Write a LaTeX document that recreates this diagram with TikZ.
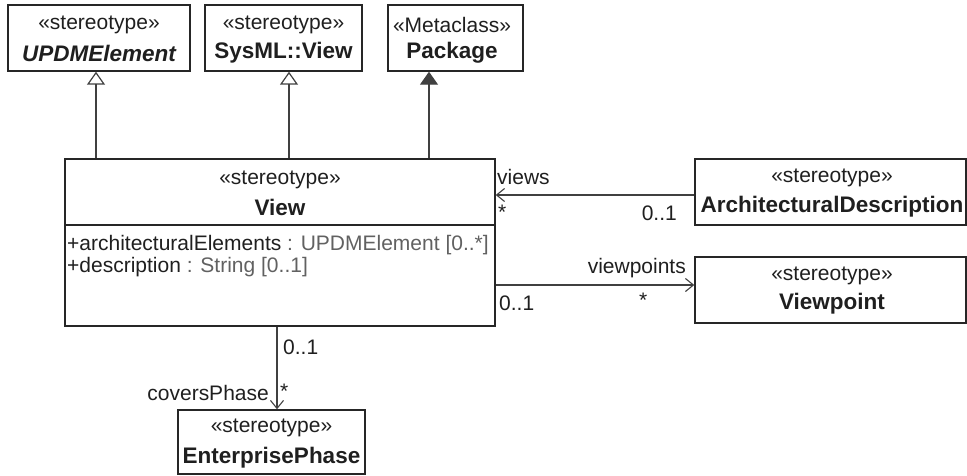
\documentclass[tikz,border=0pt]{standalone}
\usepackage{fontspec}
\setmainfont{Liberation Sans}
\usetikzlibrary{arrows.meta}
\definecolor{ln}{gray}{0.25}
\definecolor{txt}{gray}{0.12}
\definecolor{typ}{gray}{0.38}
\tikzset{
  umlbox/.style={draw=black!85, line width=1.4pt, inner sep=0pt},
  st/.style={inner sep=0pt, text=txt, font=\fontsize{21}{25}\selectfont},
  nm/.style={inner sep=0pt, text=txt, font=\fontsize{22.5}{27}\selectfont\bfseries},
  lbl/.style={inner sep=0pt, text=txt, font=\fontsize{21}{25}\selectfont},
  gen/.style={draw=ln, line width=1.2pt, -{Triangle[open, length=13pt, width=18pt]}},
  genf/.style={draw=ln, line width=1.2pt, -{Triangle[fill=ln, length=13pt, width=18pt]}},
  assoc/.style={draw=ln, line width=1.2pt, -{Straight Barb[length=8pt, width=13pt, line width=1.1pt]}}
}
\begin{document}
\begin{tikzpicture}[x=1pt, y=-1pt]
\useasboundingbox (0,0) rectangle (967,476);
% boxes
\node[umlbox, minimum width=182pt, minimum height=66pt] (upd) at (99,38) {};
\node[umlbox, minimum width=157pt, minimum height=66pt] (sysml) at (283.5,38) {};
\node[umlbox, minimum width=135pt, minimum height=66pt] (pkg) at (455.5,38) {};
\node[umlbox, minimum width=430pt, minimum height=167pt] (view) at (280,242.5) {};
\node[umlbox, minimum width=271pt, minimum height=66pt] (ad) at (830.5,192) {};
\node[umlbox, minimum width=271pt, minimum height=66pt] (vp) at (830.5,290) {};
\node[umlbox, minimum width=187pt, minimum height=64pt] (ep) at (271.5,442) {};
\coordinate (divl) at (65,225);
\draw[draw=black!85, line width=1.4pt] (divl) -- (divl -| view.east);
% texts
\node[st] (upds) at (99,25) {«stereotype»};
\node[nm, font=\fontsize{22.5}{27}\selectfont\bfseries\itshape] (updn) at (99,53) {UPDMElement};
\node[st] (sysmls) at (283.5,25) {«stereotype»};
\node[nm] (sysmln) at (283.5,53) {SysML::View};
\node[st] (pkgs) at (452,25) {«Metaclass»};
\node[nm] (pkgn) at (452,53) {Package};
\node[st] (views) at (280,180) {«stereotype»};
\node[nm] (viewn) at (280,207) {View};
\node[lbl, anchor=west] (att1) at (67,245) {+architecturalElements \textcolor{typ}{: UPDMElement [0..*]}};
\node[lbl, anchor=west] (att2) at (67,267) {+description \textcolor{typ}{: String [0..1]}};
\node[st] (ads) at (832,178) {«stereotype»};
\node[nm] (adn) at (832,207) {ArchitecturalDescription};
\node[st] (vps) at (832,276) {«stereotype»};
\node[nm] (vpn) at (832,304) {Viewpoint};
\node[st] (eps) at (271.5,428) {«stereotype»};
\node[nm] (epn) at (271.5,458) {EnterprisePhase};
% generalizations
\draw[gen] (view.north -| 96,0) -- (upd.south -| 96,0);
\draw[gen] (view.north -| 289,0) -- (sysml.south -| 289,0);
\draw[genf] (view.north -| 429,0) -- (pkg.south -| 429,0);
% associations
\draw[assoc] (ad.west |- 0,195) -- (view.east |- 0,195);
\draw[assoc] (view.east |- 0,285) -- (vp.west |- 0,285);
\draw[assoc] (view.south -| 277,0) -- (ep.north -| 277,0);
% association labels
\node[lbl, anchor=west] (l1) at (497,177) {views};
\node[lbl, anchor=west] (l2) at (498,212) {*};
\node[lbl, anchor=east] (l3) at (677,213) {0..1};
\node[lbl, anchor=east] (l4) at (686,268) {viewpoints};
\node[lbl, anchor=west] (l5) at (639,300) {*};
\node[lbl, anchor=west] (l6) at (499,303) {0..1};
\node[lbl, anchor=west] (l7) at (283,347) {0..1};
\node[lbl, anchor=east] (l8) at (269,393) {coversPhase};
\node[lbl, anchor=west] (l9) at (280,391) {*};
\end{tikzpicture}
\end{document}
